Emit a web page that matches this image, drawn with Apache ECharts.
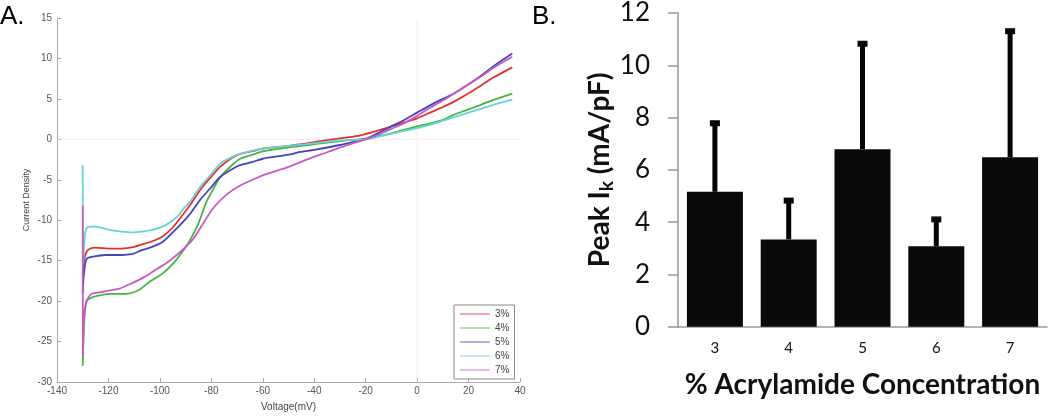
<!DOCTYPE html>
<html><head><meta charset="utf-8">
<script src="https://cdn.jsdelivr.net/npm/echarts@6/dist/echarts.min.js"></script>
<style>html,body{margin:0;padding:0;background:#fff}#c{width:1050px;height:417px}</style>
</head><body><div id="c"></div>
<script>
// Panel A: current density vs voltage, [voltage mV, current density]
const seriesNames = ['3%', '4%', '5%', '6%', '7%'];
const curve3 = [[-130,-17],[-129.5,-15],[-128.5,-13.9],[-127,-13.5],[-125,-13.4],[-120,-13.5],[-115,-13.5],[-110,-13.3],[-107,-13.0],[-103,-12.6],[-99,-12.0],[-95,-10.9],[-91,-9.3],[-88,-8.0],[-84,-6.1],[-80,-4.6],[-76.6,-3.4],[-72,-2.3],[-68.8,-1.8],[-64,-1.45],[-60,-1.15],[-50,-0.8],[-43,-0.5],[-35,-0.1],[-28,0.2],[-22,0.5],[-15,1.1],[-10,1.6],[-5,2.1],[0,2.6],[5,3.3],[10,4.0],[14,4.6],[20,5.7],[25,6.7],[30,7.7],[37,8.9]];
const curve4 = [[-130,-28],[-129.5,-23],[-128.5,-20],[-126,-19.5],[-122,-19.2],[-119,-19.1],[-113,-19.1],[-108,-18.6],[-104,-17.6],[-99,-16.6],[-95,-15.4],[-91,-13.8],[-88,-12.3],[-85,-10.4],[-82,-7.8],[-79,-6.0],[-76.6,-4.7],[-72,-3.2],[-68.8,-2.4],[-64,-1.9],[-60,-1.5],[-50,-1.0],[-43,-0.74],[-35,-0.4],[-28,-0.15],[-20,0.08],[-10,0.75],[0,1.6],[5,1.95],[10,2.4],[14,3.0],[20,3.7],[25,4.3],[30,4.9],[37,5.65]];
const curve5 = [[-130,-19],[-129.5,-16.5],[-128.5,-14.8],[-126,-14.5],[-121,-14.3],[-115,-14.3],[-111,-14.2],[-107,-13.7],[-103,-13.3],[-99,-12.7],[-95,-11.5],[-91,-10.2],[-88,-9.1],[-84.4,-7.5],[-80,-5.9],[-76.6,-4.66],[-72,-3.7],[-68.8,-3.2],[-64,-2.8],[-60,-2.4],[-50,-1.9],[-45.5,-1.56],[-40,-1.3],[-30,-0.7],[-20,0.05],[-15,0.8],[-10,1.6],[-5,2.4],[0,3.3],[5,4.2],[10,5.0],[14,5.6],[20,6.8],[25,7.9],[30,9.1],[37,10.6]];
const curve6 = [[-130,-3.2],[-129.8,-15.3],[-129.2,-12],[-128.5,-11.0],[-127,-10.8],[-125,-10.8],[-122,-11.0],[-118.7,-11.25],[-115,-11.4],[-111,-11.5],[-107,-11.4],[-103,-11.2],[-99,-10.8],[-96.7,-10.4],[-93,-9.5],[-90.9,-8.6],[-88,-7.6],[-84.4,-5.9],[-80,-4.3],[-76.6,-3.0],[-72,-2.2],[-68.8,-1.8],[-64,-1.4],[-60,-1.15],[-50,-0.8],[-43,-0.6],[-35,-0.3],[-28,-0.1],[-20,0.0],[-10,0.7],[0,1.4],[5,1.8],[10,2.3],[14,2.7],[20,3.3],[25,3.8],[30,4.3],[37,4.9]];
const curve7 = [[-130,-8.2],[-129.9,-26.7],[-129.5,-22],[-128.5,-20],[-126.5,-19.1],[-123,-18.9],[-120,-18.7],[-116,-18.5],[-111,-17.8],[-106,-17.0],[-102,-16.2],[-97,-15.2],[-92,-13.9],[-87,-12.3],[-83,-10.3],[-79,-8.4],[-74,-6.8],[-68.8,-5.7],[-64,-5.0],[-60,-4.45],[-50,-3.4],[-43,-2.5],[-35,-1.6],[-28,-0.8],[-20,0.0],[-15,0.6],[-10,1.3],[-5,2.0],[0,2.9],[5,3.9],[10,4.8],[15,5.8],[20,6.8],[25,7.8],[30,8.9],[37,10.2]];
const curveColors = ['#e2302e', '#44b444', '#4444bb', '#66d2da', '#c85ac4'];
// zero reference lines of panel A (axis extents)
const zeroLineV = [[0, -30], [0, 15]];
const zeroLineH = [[-140, 0], [40, 0]];

// Panel B: peak current by acrylamide concentration
const categories = ['3', '4', '5', '6', '7'];
const peakMean = [5.16, 3.34, 6.79, 3.08, 6.48];
const peakErrTop = [7.86, 4.9, 10.9, 4.18, 11.38];

const curves = [curve3, curve4, curve5, curve6, curve7];
const chart = echarts.init(document.getElementById('c'), null, {renderer: 'canvas'});

const refStyle = {color: '#f4d6d6', type: 'dotted', width: 1};
const lineSeries = [zeroLineV, zeroLineH].map(d => ({
  type: 'line', xAxisIndex: 0, yAxisIndex: 0, data: d, silent: true, z: 1,
  showSymbol: false, symbol: 'none', lineStyle: refStyle, itemStyle: {color: '#f4d6d6'}
})).concat(curves.map((d, i) => ({
  name: seriesNames[i], type: 'line', xAxisIndex: 0, yAxisIndex: 0,
  data: d, showSymbol: false, symbol: 'none', smooth: 0.25,
  lineStyle: {width: 1.8, color: curveColors[i]}, itemStyle: {color: curveColors[i]},
  z: 3 + i
})));

const errData = categories.map((c, i) => [i, peakMean[i], peakErrTop[i]]);

chart.setOption({
  animation: false,
  textStyle: {fontFamily: 'Liberation Sans'},
  graphic: [
    {type: 'text', left: 0, top: 4, style: {text: 'A.', font: '26px "Liberation Sans"', fill: '#000'}},
    {type: 'text', left: 532, top: 4, style: {text: 'B.', font: '26px "Liberation Sans"', fill: '#000'}}
  ],
  legend: {
    data: seriesNames, orient: 'vertical', left: 454, top: 305,
    padding: [3, 5, 3, 6], itemGap: 2, itemWidth: 30, itemHeight: 1.5, icon: 'rect',
    borderColor: '#888', borderWidth: 1, backgroundColor: '#fff',
    itemStyle: {opacity: 0.55},
    textStyle: {fontSize: 10, lineHeight: 12, color: '#444', fontFamily: 'Liberation Sans'}
  },
  grid: [
    {left: 57, top: 18, width: 463, height: 364},
    {left: 678, top: 8.3, width: 369, height: 318.4}
  ],
  xAxis: [
    {type: 'value', gridIndex: 0, min: -140, max: 40, interval: 20,
     name: 'Voltage(mV)', nameLocation: 'middle', nameGap: 20,
     nameTextStyle: {fontSize: 10, color: '#444'},
     axisLine: {onZero: false, lineStyle: {color: '#aaa'}},
     axisTick: {inside: true, length: 4, lineStyle: {color: '#aaa'}},
     axisLabel: {fontSize: 10, color: '#555', margin: 4},
     splitLine: {show: false}},
    {type: 'category', gridIndex: 1, data: categories,
     name: '% Acrylamide Concentration', nameLocation: 'middle', nameGap: 44,
     nameTextStyle: {fontSize: 28, fontWeight: 'bold', color: '#111', fontFamily: 'Lato'},
     axisLine: {lineStyle: {color: '#999', width: 1.5}},
     axisTick: {length: 6, lineStyle: {color: '#999', width: 1.5}},
     axisLabel: {fontSize: 15, color: '#111', margin: 14, fontFamily: 'Lato'}}
  ],
  yAxis: [
    {type: 'value', gridIndex: 0, min: -30, max: 15, interval: 5,
     name: 'Current Density', nameLocation: 'middle', nameGap: 26,
     nameTextStyle: {fontSize: 9, color: '#444'},
     axisLine: {show: true, onZero: false, lineStyle: {color: '#aaa'}},
     axisTick: {show: true, inside: true, length: 4, lineStyle: {color: '#aaa'}},
     axisLabel: {fontSize: 10, color: '#555', margin: 5},
     splitLine: {show: false}},
    {type: 'value', gridIndex: 1, min: 0, max: 12, interval: 2,
     name: 'Peak I{sub|k} (mA/pF)', nameLocation: 'middle', nameGap: 62,
     nameTextStyle: {fontSize: 28, fontWeight: 'bold', color: '#111', fontFamily: 'Lato',
       rich: {sub: {fontSize: 19, fontWeight: 'bold', fontFamily: 'Lato', color: '#111', padding: [12, 0, 0, 0]}}},
     axisLine: {show: true, lineStyle: {color: '#999', width: 1.5}},
     axisTick: {show: true, length: 10, lineStyle: {color: '#999', width: 1.5}},
     axisLabel: {fontSize: 26, color: '#111', margin: 28, fontFamily: 'Lato'},
     splitLine: {show: false}}
  ],
  series: lineSeries.concat([
    {type: 'bar', xAxisIndex: 1, yAxisIndex: 1, data: peakMean, barWidth: 56,
     itemStyle: {color: '#0a0a0a'}, silent: true},
    {type: 'custom', xAxisIndex: 1, yAxisIndex: 1, data: errData, silent: true, z: 5,
     renderItem: function (params, api) {
       const lo = api.coord([api.value(0), api.value(1)]);
       const hi = api.coord([api.value(0), api.value(2)]);
       return {type: 'group', children: [
         {type: 'rect', shape: {x: lo[0] - 2.5, y: hi[1], width: 5, height: lo[1] - hi[1]}, style: {fill: '#050505'}},
         {type: 'rect', shape: {x: hi[0] - 5, y: hi[1] - 1, width: 10, height: 6}, style: {fill: '#050505'}}
       ]};
     }}
  ])
});
</script></body></html>
